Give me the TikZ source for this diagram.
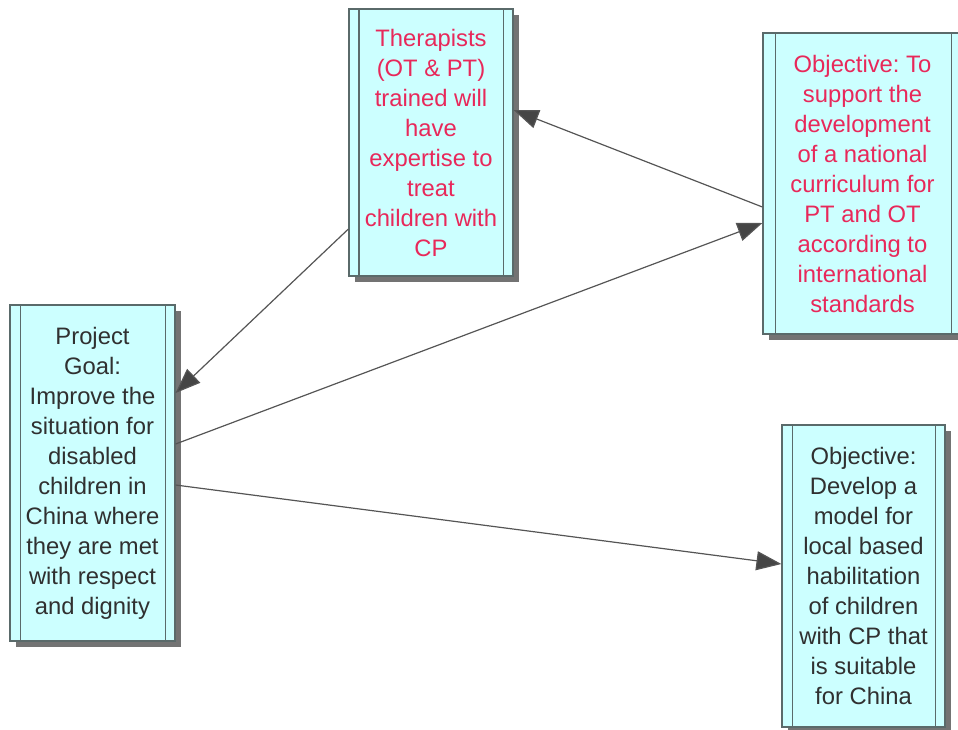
\documentclass[tikz,border=0pt]{standalone}
\usepackage{fontspec}
\setmainfont{Liberation Sans}
\frenchspacing
\usetikzlibrary{arrows.meta,shadows,calc}
\definecolor{boxfill}{HTML}{CCFFFF}
\definecolor{boxline}{HTML}{5A6A6A}
\definecolor{redtxt}{HTML}{E8285A}
\definecolor{blktxt}{HTML}{303030}
\definecolor{conn}{HTML}{555555}
\definecolor{tipc}{HTML}{454545}
\tikzset{
  ibox/.style={draw=boxline, line width=1.2pt, fill=boxfill, rectangle, inner sep=0pt,
    align=center, font=\fontsize{23.8}{30}\selectfont,
    drop shadow={shadow xshift=6pt, shadow yshift=-6pt, fill=black!55, opacity=1}},
  innerln/.style={draw=boxline, line width=1.2pt},
  conline/.style={draw=conn, line width=1.2pt, -{Triangle[length=25pt,width=19pt,fill=tipc]}}
}
\begin{document}
\begin{tikzpicture}[x=1pt,y=-1pt]
\useasboundingbox (0,0) rectangle (958,729);
\node[ibox, text=redtxt, minimum width=164pt, minimum height=267pt] (A) at (431,142.5)
  {Therapists\\(OT \& PT)\\trained will\\have\\expertise to\\treat\\children with\\CP};
\node[ibox, text=blktxt, minimum width=165pt, minimum height=336pt] (B) at (92.5,473)
  {Project\\Goal:\\Improve the\\situation for\\disabled\\children in\\China where\\they are met\\with respect\\and dignity};
\node[ibox, text=redtxt, minimum width=199pt, minimum height=301pt] (C) at (862.5,183.5)
  {Objective: To\\support the\\development\\of a national\\curriculum for\\PT and OT\\according to\\international\\standards};
\node[ibox, text=blktxt, minimum width=163pt, minimum height=302pt] (D) at (863.5,576)
  {Objective:\\Develop a\\model for\\local based\\habilitation\\of children\\with CP that\\is suitable\\for China};
\foreach \n/\a/\b in {A/10.5/10.5, B/11/10.5, C/13/11, D/11/10.5}{
  \draw[innerln] ([xshift=\a pt]\n.north west) -- ([xshift=\a pt]\n.south west);
  \draw[innerln] ([xshift=-\b pt]\n.north east) -- ([xshift=-\b pt]\n.south east);
}
\draw[conline] ([yshift=-86.5pt]A.west) -- ([yshift=80pt]B.east);
\draw[conline] ([yshift=-23.5pt]C.west) -- ([yshift=32.5pt]A.east);
\draw[conline] ([yshift=29pt]B.east) -- ([yshift=-39.5pt]C.west);
\draw[conline] ([yshift=-12pt]B.east) -- ([yshift=12pt]D.west);
\end{tikzpicture}
\end{document}
